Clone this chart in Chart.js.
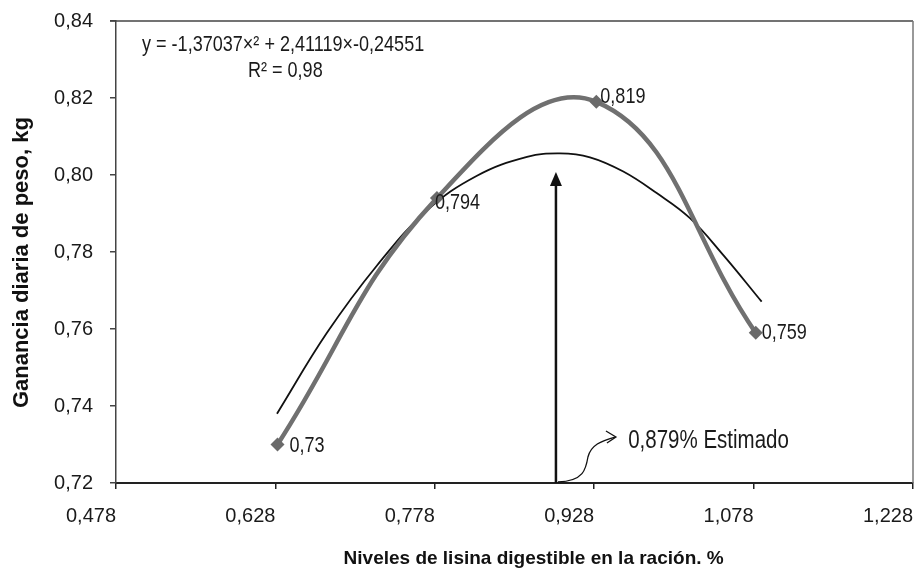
<!DOCTYPE html>
<html>
<head>
<meta charset="utf-8">
<script src="https://cdn.jsdelivr.net/npm/chart.js@4.4.1/dist/chart.umd.min.js"></script>
<style>
    html, body { margin: 0; padding: 0; background: #fff; }
    #wrap { width: 915px; height: 570px; }
</style>
</head>
<body>
<div id="wrap"><canvas id="chart" width="915" height="570"></canvas></div>
<script>
// observed daily gain per lysine level
const lysineLevels = [0.63, 0.78, 0.93, 1.08];
const dailyGain = [0.73, 0.794, 0.819, 0.759];

// quadratic trend line as drawn in the figure
const trendX = [0.6295, 0.6765, 0.7236, 0.7707, 0.8177, 0.8648, 0.8958, 0.924, 0.9554, 0.9868, 1.0181, 1.0495, 1.0856];
const trendY = [0.738, 0.759, 0.7765, 0.7908, 0.7998, 0.8047, 0.8056, 0.8046, 0.8009, 0.7953, 0.7888, 0.7792, 0.7671];

const xTicks = [0.478, 0.628, 0.778, 0.928, 1.078, 1.228];
const yTicks = [0.72, 0.74, 0.76, 0.78, 0.80, 0.82, 0.84];

// estimated optimum arrow
const optimumX = 0.892;
const arrowTop = 0.8008;

const xTitle = 'Niveles de lisina digestible en la ración. %';
const yTitle = 'Ganancia diaria de peso, kg';
const equationText = 'y = -1,37037\u00d7\u00b2 + 2,41119\u00d7-0,24551';
const r2Text = 'R\u00b2 = 0,98';
const estimateText = '0,879% Estimado';

const plain = "'Liberation Sans', Arial, sans-serif";

const comma = v => String(v).replace('.', ',');

// condensed text, the original uses a narrow face
function narrowText(ctx, text, x, y, size) {
    ctx.save();
    ctx.translate(x, y);
    ctx.scale(0.82, 1);
    ctx.font = size + 'px ' + plain;
    ctx.fillText(text, 0, 0);
    ctx.restore();
}

const labelNudge = [[12, 1], [-2, 5], [4, -5], [6, 0]];

const extras = {
    id: 'extras',
    afterDatasetsDraw(chart) {
        const ctx = chart.ctx;
        const xs = chart.scales.x, ys = chart.scales.y;
        const area = chart.chartArea;
        ctx.save();

        // frame: top and right
        ctx.strokeStyle = '#444';
        ctx.lineWidth = 1.5;
        ctx.beginPath();
        ctx.moveTo(area.left - 6, area.top);
        ctx.lineTo(area.right, area.top);
        ctx.stroke();
        ctx.strokeStyle = '#777';
        ctx.beginPath();
        ctx.moveTo(area.right, area.top);
        ctx.lineTo(area.right, area.bottom);
        ctx.stroke();

        // axis titles (sit a bit off-centre in the original)
        ctx.fillStyle = '#111';
        ctx.textAlign = 'center';
        ctx.textBaseline = 'middle';
        ctx.font = 'bold 19px ' + plain;
        ctx.fillText(xTitle, area.left + (area.right - area.left) * 0.524, 559);
        ctx.save();
        ctx.translate(22, area.top + (area.bottom - area.top) * 0.523);
        ctx.rotate(-Math.PI / 2);
        ctx.font = 'bold 22px ' + plain;
        ctx.fillText(yTitle, 0, 0);
        ctx.restore();

        // point labels
        ctx.fillStyle = '#1a1a1a';
        ctx.textAlign = 'left';
        lysineLevels.forEach((lv, i) => {
            const px = xs.getPixelForValue(lv);
            const py = ys.getPixelForValue(dailyGain[i]);
            narrowText(ctx, comma(dailyGain[i]), px + labelNudge[i][0], py + labelNudge[i][1], 22);
        });

        // vertical arrow
        const ax = xs.getPixelForValue(optimumX);
        const tipY = ys.getPixelForValue(arrowTop);
        ctx.strokeStyle = '#111';
        ctx.fillStyle = '#111';
        ctx.lineWidth = 2.5;
        ctx.beginPath();
        ctx.moveTo(ax, area.bottom);
        ctx.lineTo(ax, tipY + 12);
        ctx.stroke();
        ctx.beginPath();
        ctx.moveTo(ax, tipY);
        ctx.lineTo(ax - 6, tipY + 14);
        ctx.lineTo(ax + 6, tipY + 14);
        ctx.closePath();
        ctx.fill();

        // curly pointer
        ctx.lineWidth = 1.3;
        ctx.beginPath();
        ctx.moveTo(ax + 2, area.bottom - 1);
        ctx.bezierCurveTo(ax + 28, area.bottom - 2, ax + 30, area.bottom - 14, ax + 32, area.bottom - 26);
        ctx.bezierCurveTo(ax + 35, area.bottom - 38, ax + 45, area.bottom - 42, ax + 59, area.bottom - 46);
        ctx.stroke();
        ctx.beginPath();
        ctx.moveTo(ax + 50, area.bottom - 52);
        ctx.lineTo(ax + 60, area.bottom - 46);
        ctx.lineTo(ax + 51, area.bottom - 40);
        ctx.stroke();

        ctx.fillStyle = '#1a1a1a';
        narrowText(ctx, estimateText, xs.getPixelForValue(0.96), ys.getPixelForValue(0.7309), 25);

        // regression equation
        narrowText(ctx, equationText, xs.getPixelForValue(0.5025), ys.getPixelForValue(0.8338), 22);
        narrowText(ctx, r2Text, xs.getPixelForValue(0.6022), ys.getPixelForValue(0.827), 22);

        ctx.restore();
    }
};

new Chart(document.getElementById('chart'), {
    type: 'line',
    data: {
        datasets: [
            {
                label: 'Ganancia',
                data: lysineLevels.map((x, i) => ({ x: x, y: dailyGain[i] })),
                borderColor: '#707070',
                backgroundColor: '#6a6a6a',
                borderWidth: 4.5,
                tension: 0.42,
                pointStyle: 'rectRot',
                pointRadius: 7,
                pointBorderWidth: 0,
                fill: false
            },
            {
                label: 'Tendencia',
                data: trendX.map((x, i) => ({ x: x, y: trendY[i] })),
                borderColor: '#111',
                borderWidth: 1.8,
                tension: 0.4,
                pointRadius: 0,
                fill: false
            }
        ]
    },
    plugins: [extras],
    options: {
        responsive: false,
        animation: false,
        layout: { autoPadding: false, padding: { top: 21, right: 2, left: 0, bottom: 0 } },
        plugins: {
            legend: { display: false },
            tooltip: { enabled: false }
        },
        scales: {
            x: {
                type: 'linear',
                min: 0.478,
                max: 1.228,
                afterBuildTicks: s => { s.ticks = xTicks.map(v => ({ value: v })); },
                afterFit: s => { s.height = 87; s.paddingLeft = 0; s.paddingRight = 0; },
                ticks: {
                    color: '#1a1a1a',
                    font: { family: plain, size: 20 },
                    padding: 15,
                    align: 'end',
                    maxRotation: 0,
                    callback: v => v.toFixed(3).replace('.', ',')
                },
                grid: { drawOnChartArea: false, drawTicks: true, tickLength: 6, color: '#222', lineWidth: 1.5 },
                border: { display: true, color: '#222', width: 2 }
            },
            y: {
                min: 0.72,
                max: 0.84,
                afterBuildTicks: s => { s.ticks = yTicks.map(v => ({ value: v })); },
                afterFit: s => { s.width = 116; s.paddingTop = 0; s.paddingBottom = 0; },
                ticks: {
                    color: '#1a1a1a',
                    font: { family: plain, size: 20 },
                    padding: 17,
                    callback: v => v.toFixed(2).replace('.', ',')
                },
                grid: { drawOnChartArea: false, drawTicks: true, tickLength: 6, color: '#444', lineWidth: 1.5 },
                border: { display: true, color: '#444', width: 1.5 }
            }
        }
    }
});
</script>
</body>
</html>
